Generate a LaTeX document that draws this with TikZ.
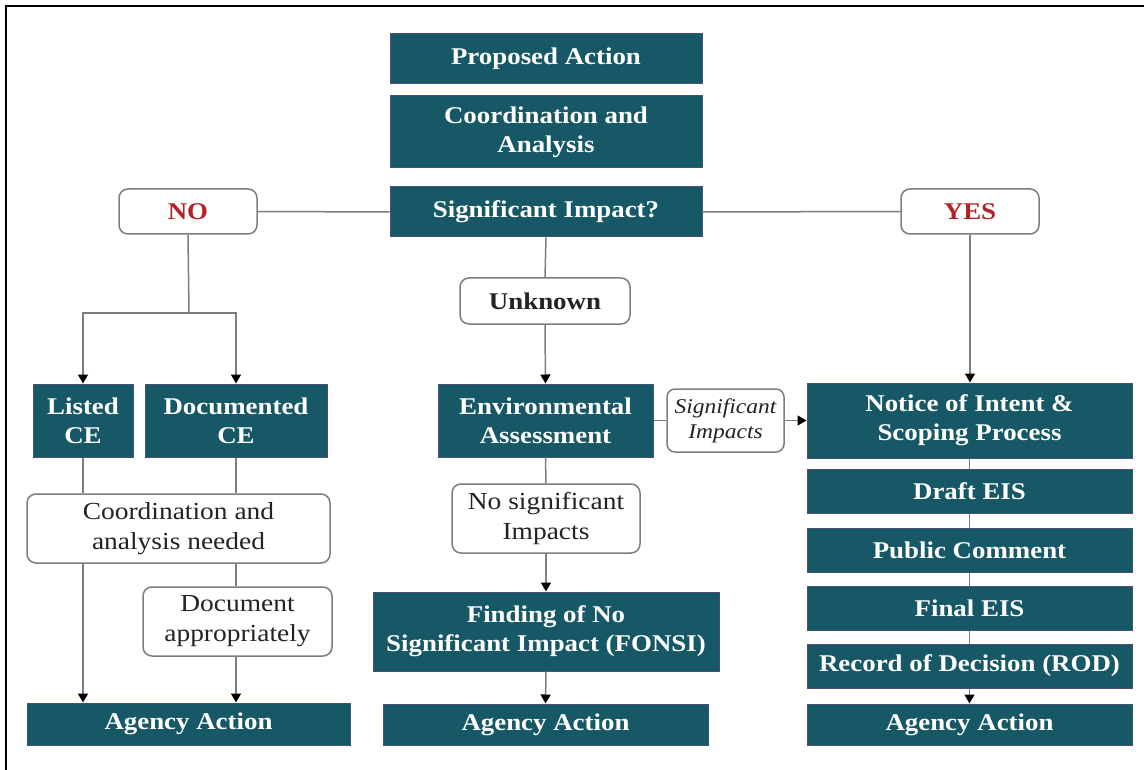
\documentclass[tikz,border=0pt]{standalone}
\usepackage{fontspec}
\setmainfont{Liberation Serif}[FakeStretch=1.12]
\usetikzlibrary{arrows.meta}
\definecolor{teal1}{RGB}{22,88,102}
\definecolor{tealedge}{RGB}{70,80,120}
\definecolor{conn}{RGB}{125,125,125}
\definecolor{redtxt}{RGB}{178,34,40}
\definecolor{darktxt}{RGB}{35,35,35}
\tikzset{
  tbox/.style={rectangle, fill=teal1, draw=tealedge, line width=1pt, text=white,
    font=\fontsize{24}{29}\selectfont\bfseries, align=center, inner sep=0pt},
  wbox/.style={rectangle, rounded corners=9pt, fill=white, draw=conn, line width=1.5pt,
    text=darktxt, font=\fontsize{24.5}{30}\selectfont, align=center, inner sep=0pt},
  conline/.style={draw=conn, line width=1.5pt},
  arr/.style={conline, -{Triangle[width=10pt,length=9pt,color=black]}},
}
\begin{document}
\begin{tikzpicture}[x=1pt,y=-1pt]
\useasboundingbox (0,0) rectangle (1144,770);
\draw[line width=2.5pt] (6,770) -- (6,6) -- (1144,6);

% centre column top
\node[tbox, minimum width=312pt, minimum height=50pt] (pa) at (546,59) {Proposed Action};
\node[tbox, minimum width=312pt, minimum height=72pt] (ca) at (546,132) {Coordination and\\Analysis};
\node[tbox, minimum width=312pt, minimum height=50pt] (si) at (546,212) {Significant Impact?};
\node[wbox, minimum width=138pt, minimum height=45pt, text=redtxt, font=\fontsize{24}{29}\selectfont\bfseries] (no) at (188,211.5) {NO};
\node[wbox, minimum width=138pt, minimum height=45pt, text=redtxt, font=\fontsize{24}{29}\selectfont\bfseries] (yes) at (970,211.5) {YES};
\node[wbox, minimum width=170pt, minimum height=46pt, font=\fontsize{24}{29}\selectfont\bfseries] (unk) at (545,301) {Unknown};

% left column
\node[tbox, minimum width=100pt, minimum height=73pt] (lce) at (83,420.5) {Listed\\CE};
\node[tbox, minimum width=182pt, minimum height=73pt] (dce) at (236,420.5) {Documented\\CE};
\node[wbox, minimum width=303pt, minimum height=69pt] (cand) at (178.5,528.5) {Coordination and\\analysis needed};
\node[wbox, minimum width=189pt, minimum height=69pt] (docap) at (237.5,621.5) {Document\\appropriately};
\node[tbox, minimum width=323pt, minimum height=42pt] (aa1) at (188.5,724) {Agency Action};

% middle column
\node[tbox, minimum width=215pt, minimum height=73pt] (ea) at (545.5,420.5) {Environmental\\Assessment};
\node[wbox, minimum width=117pt, minimum height=63pt, rounded corners=8pt, font=\fontsize{21}{25}\selectfont\itshape] (sigimp) at (725.5,420.5) {Significant\\Impacts};
\node[wbox, minimum width=188pt, minimum height=69pt] (nsi) at (546,518.5) {No significant\\Impacts};
\node[tbox, minimum width=346pt, minimum height=79pt] (fonsi) at (546,631.5) {Finding of No\\Significant Impact (FONSI)};
\node[tbox, minimum width=325pt, minimum height=41pt] (aa2) at (545.5,724.5) {Agency Action};

% right column
\node[tbox, minimum width=325pt, minimum height=75pt] (noi) at (969.5,420.5) {Notice of Intent \&\\Scoping Process};
\node[tbox, minimum width=325pt, minimum height=44pt] (deis) at (969.5,491) {Draft EIS};
\node[tbox, minimum width=325pt, minimum height=44pt] (pc) at (969.5,550) {Public Comment};
\node[tbox, minimum width=325pt, minimum height=44pt] (feis) at (969.5,608) {Final EIS};
\node[tbox, minimum width=325pt, minimum height=44pt] (rod) at (969.5,666) {Record of Decision (ROD)};
\node[tbox, minimum width=325pt, minimum height=41pt] (aa3) at (969.5,724.5) {Agency Action};

% connectors top
\draw[conline] (si.west) -- (no.east);
\draw[conline] (si.east) -- (yes.west);
\draw[conline] (si.south) -- (unk.north);
\draw[arr] (unk.south) -- (ea.north);

% NO branch
\coordinate (jn) at (189,313);
\draw[conline] (no.south) -- (jn);
\draw[arr] (jn) -| (lce.north);
\draw[arr] (jn) -| (dce.north);
\draw[conline] (lce.south) -- (lce.south |- cand.north);
\draw[conline] (dce.south) -- (dce.south |- cand.north);
\draw[arr] (lce.south |- cand.south) -- (lce.south |- aa1.north);
\draw[conline] (docap.north -| dce.south) -- (dce.south |- cand.south);
\draw[arr] (dce.south |- docap.south) -- (dce.south |- aa1.north);

% middle
\draw[conline] (ea.east) -- (sigimp.west);
\draw[arr] (sigimp.east) -- (noi.west);
\draw[conline] (ea.south) -- (nsi.north);
\draw[arr] (nsi.south) -- (fonsi.north);
\draw[arr] (fonsi.south) -- (aa2.north);

% YES branch
\draw[arr] (yes.south) -- (yes.south |- noi.north);
\draw[conline] (noi.south) -- (deis.north);
\draw[conline] (deis.south) -- (pc.north);
\draw[conline] (pc.south) -- (feis.north);
\draw[conline] (feis.south) -- (rod.north);
\draw[arr] (rod.south) -- (aa3.north);
\end{tikzpicture}
\end{document}
